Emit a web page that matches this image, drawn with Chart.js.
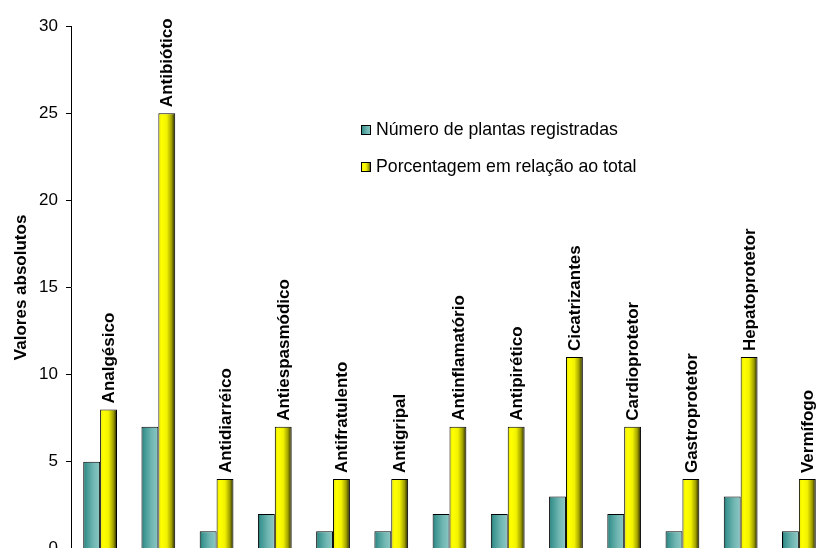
<!DOCTYPE html>
<html><head><meta charset="utf-8">
<script src="https://cdn.jsdelivr.net/npm/chart.js@4"></script>
<style>html,body{margin:0;padding:0;background:#fff;overflow:hidden}#wrap{width:830px;height:567px}</style>
</head><body><div id="wrap"><canvas id="c" width="830" height="567"></canvas></div>
<script>
const categories = ['Analgésico','Antibiótico','Antidiarréico','Antiespasmódico','Antifratulento','Antigripal','Antinflamatório','Antipirético','Cicatrizantes','Cardioprotetor','Gastroprotetor','Hepatoprotetor','Vermífogo'];
const plantCounts = [5,7,1,2,1,1,2,2,3,2,1,3,1];
const percentages = [8,25,4,7,4,4,7,7,11,7,4,11,4];
const yTicks = [0,5,10,15,20,25,30];
const seriesNames = ['Número de plantas registradas','Porcentagem em relação ao total'];

const CAT_PCT = 0.58;
const FONT = '"Liberation Sans", Arial, sans-serif';

function addStops(g, ds) {
  if (ds === 0) {
    g.addColorStop(0, '#1f6e6b');
    g.addColorStop(0.15, '#3b9490');
    g.addColorStop(0.6, '#70b6b2');
    g.addColorStop(1, '#8cc8c4');
  } else {
    g.addColorStop(0, '#e6e600');
    g.addColorStop(0.2, '#ffff00');
    g.addColorStop(0.5, '#f2f200');
    g.addColorStop(0.78, '#a0a000');
    g.addColorStop(1, '#1e1e00');
  }
  return g;
}

function barGradient(ctx, ds) {
  const chart = ctx.chart;
  const x = chart.scales.x;
  if (!x || !chart.chartArea || ctx.dataIndex === undefined) return ds ? '#ffff00' : '#5fb0ac';
  const catW = x.width / categories.length;
  const bw = catW * CAT_PCT / 2;
  const c = x.getPixelForValue(ctx.dataIndex);
  const x0 = ds ? c : c - bw;
  return addStops(chart.ctx.createLinearGradient(x0, 0, x0 + bw, 0), ds);
}

const labelPlugin = {
  id: 'barLabels',
  afterDatasetsDraw(chart) {
    const meta = chart.getDatasetMeta(1);
    const ctx = chart.ctx;
    ctx.save();
    ctx.font = 'bold 17px ' + FONT;
    ctx.fillStyle = '#000';
    ctx.textAlign = 'left';
    ctx.textBaseline = 'middle';
    meta.data.forEach((bar, i) => {
      ctx.save();
      ctx.translate(bar.x + 1, bar.y - 6);
      ctx.rotate(-Math.PI / 2);
      ctx.fillText(categories[i], 0, 0);
      ctx.restore();
    });
    ctx.restore();
  }
};

const legendPlugin = {
  id: 'insideLegend',
  afterDraw(chart) {
    const ctx = chart.ctx;
    const rows = [135, 172];
    ctx.save();
    ctx.font = '17.7px ' + FONT;
    ctx.textBaseline = 'alphabetic';
    ctx.textAlign = 'left';
    rows.forEach((by, i) => {
      const sx = 361, sy = by - 10, s = 10;
      ctx.fillStyle = addStops(ctx.createLinearGradient(sx, 0, sx + s, 0), i);
      ctx.fillRect(sx, sy, s, s);
      ctx.strokeStyle = '#000';
      ctx.lineWidth = 1;
      ctx.strokeRect(sx + 0.5, sy + 0.5, s - 1, s - 1);
      ctx.fillStyle = '#000';
      ctx.fillText(seriesNames[i], 376, by);
    });
    ctx.restore();
  }
};

new Chart(document.getElementById('c'), {
  type: 'bar',
  data: {
    labels: categories,
    datasets: [
      { label: seriesNames[0], data: plantCounts, backgroundColor: c => barGradient(c, 0), borderColor: '#000', borderWidth: 1, categoryPercentage: CAT_PCT, barPercentage: 1 },
      { label: seriesNames[1], data: percentages, backgroundColor: c => barGradient(c, 1), borderColor: '#000', borderWidth: 1, categoryPercentage: CAT_PCT, barPercentage: 1 }
    ]
  },
  options: {
    responsive: false,
    animation: false,
    devicePixelRatio: 1,
    layout: { padding: { top: 26, right: 2, bottom: 0, left: 0 } },
    plugins: { legend: { display: false }, tooltip: { enabled: false } },
    scales: {
      x: {
        offset: true,
        afterFit: s => { s.height = 13; },
        ticks: { display: false },
        grid: { offset: true, drawOnChartArea: false, drawTicks: true, tickLength: 5, color: '#000' },
        border: { color: '#000', width: 1 }
      },
      y: {
        min: 0, max: 30,
        afterFit: s => { s.width = 71; },
        afterBuildTicks: s => { s.ticks = yTicks.map(v => ({ value: v })); },
        ticks: { stepSize: 5, padding: 8, color: '#000', font: { size: 17, family: FONT } },
        grid: { drawOnChartArea: false, drawTicks: true, tickLength: 5, color: '#000' },
        border: { color: '#000', width: 1 },
        title: { display: true, text: 'Valores absolutos', color: '#000', padding: { top: 11, bottom: 4 }, font: { size: 17, weight: 'bold', family: FONT } }
      }
    }
  },
  plugins: [labelPlugin, legendPlugin]
});
</script></body></html>
